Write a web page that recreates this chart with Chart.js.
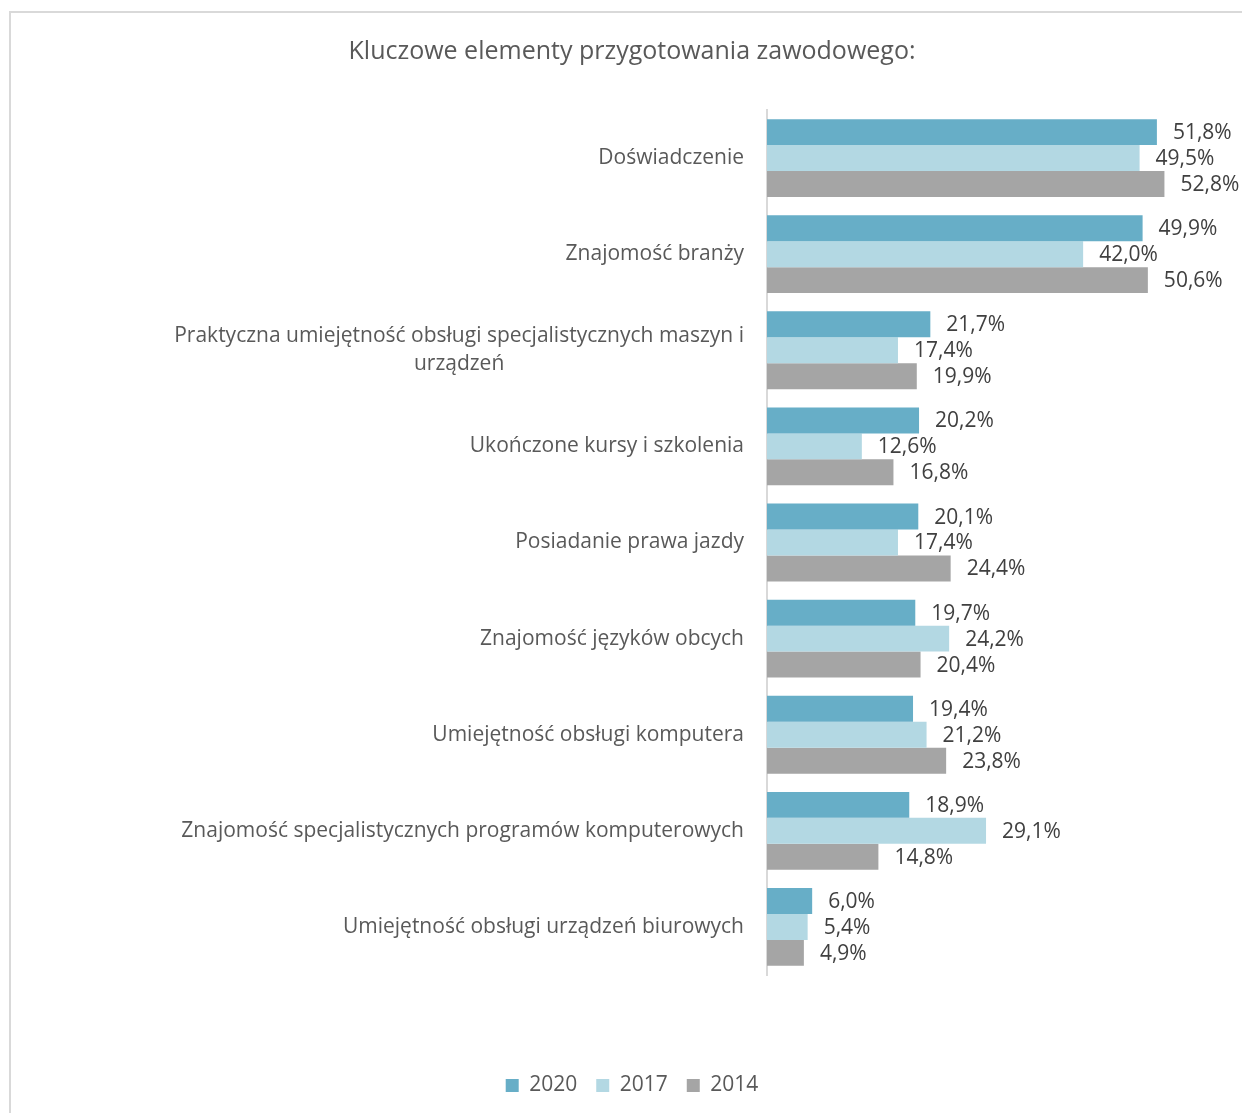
<!DOCTYPE html>
<html lang="pl">
<head>
<meta charset="UTF-8">
<title>Kluczowe elementy przygotowania zawodowego</title>
<script src="https://cdn.jsdelivr.net/npm/chart.js@4"></script>
<style>
    html, body {
        margin: 0;
        padding: 0;
        background: #ffffff;
        overflow: hidden;
        width: 1242px;
        height: 1113px;
    }
    .frame {
        position: absolute;
        left: 9px;
        top: 11px;
        width: 1300px;
        height: 1200px;
        border-left: 2px solid #d9d9d9;
        border-top: 2px solid #d9d9d9;
    }
    .chart-box {
        position: absolute;
        left: 10px;
        top: 12px;
        width: 1244px;
        height: 1094px;
    }
</style>
</head>
<body>
<div class="frame"></div>
<div class="chart-box"><canvas id="skillsChart"></canvas></div>
<script>
// Categories (multi-line label kept as an array of lines)
const categories = [
    ['Doświadczenie'],
    ['Znajomość branży'],
    ['Praktyczna umiejętność obsługi specjalistycznych maszyn i', 'urządzeń'],
    ['Ukończone kursy i szkolenia'],
    ['Posiadanie prawa jazdy'],
    ['Znajomość języków obcych'],
    ['Umiejętność obsługi komputera'],
    ['Znajomość specjalistycznych programów komputerowych'],
    ['Umiejętność obsługi urządzeń biurowych']
];

// Survey results in percent
const years = ['2020', '2017', '2014'];
const values2020 = [51.8, 49.9, 21.7, 20.2, 20.1, 19.7, 19.4, 18.9, 6.0];
const values2017 = [49.5, 42.0, 17.4, 12.6, 17.4, 24.2, 21.2, 29.1, 5.4];
const values2014 = [52.8, 50.6, 19.9, 16.8, 24.4, 20.4, 23.8, 14.8, 4.9];

const seriesColors = ['#67aec7', '#b3d8e3', '#a5a5a5'];
const FONT = "'Open Sans', sans-serif";

// Polish number format: 51,8%
function formatPercent(v) {
    return v.toFixed(1).replace('.', ',') + '%';
}

// Category labels drawn right-aligned as a block, lines centred inside it
const categoryLabels = {
    id: 'categoryLabels',
    afterDraw(chart) {
        const ctx = chart.ctx;
        const yScale = chart.scales.y;
        const right = yScale.right - 23;
        const lineHeight = 28;
        ctx.save();
        ctx.font = '21px ' + FONT;
        ctx.fillStyle = '#595959';
        ctx.textAlign = 'center';
        ctx.textBaseline = 'middle';
        categories.forEach((lines, i) => {
            const center = yScale.getPixelForValue(i);
            const blockWidth = Math.max(...lines.map(l => ctx.measureText(l).width));
            const x = right - blockWidth / 2;
            const top = center - (lines.length - 1) * lineHeight / 2;
            lines.forEach((line, j) => {
                ctx.fillText(line, x, top + j * lineHeight);
            });
        });
        ctx.restore();
    }
};

// Value labels just past the end of each bar
const valueLabels = {
    id: 'valueLabels',
    afterDatasetsDraw(chart) {
        const ctx = chart.ctx;
        ctx.save();
        ctx.font = '21px ' + FONT;
        ctx.fillStyle = '#404040';
        ctx.textAlign = 'left';
        ctx.textBaseline = 'middle';
        chart.data.datasets.forEach((ds, di) => {
            chart.getDatasetMeta(di).data.forEach((bar, i) => {
                ctx.fillText(formatPercent(ds.data[i]), bar.x + 16, bar.y + 1);
            });
        });
        ctx.restore();
    }
};

const ctx = document.getElementById('skillsChart').getContext('2d');
const skillsChart = new Chart(ctx, {
    type: 'bar',
    data: {
        labels: categories,
        datasets: [
            { label: years[0], data: values2020, backgroundColor: seriesColors[0] },
            { label: years[1], data: values2017, backgroundColor: seriesColors[1] },
            { label: years[2], data: values2014, backgroundColor: seriesColors[2] }
        ]
    },
    options: {
        indexAxis: 'y',
        responsive: true,
        maintainAspectRatio: false,
        animation: false,
        datasets: {
            bar: {
                categoryPercentage: 0.81,
                barPercentage: 1.0
            }
        },
        layout: {
            padding: 0
        },
        scales: {
            x: {
                // axis runs to the right edge, room for the value labels
                min: 0,
                max: 64.7,
                grid: { display: false },
                border: { display: false },
                ticks: { display: false },
                afterFit(axis) { axis.height = 81; }
            },
            y: {
                grid: { display: false, drawTicks: false },
                border: { display: true, color: '#d9d9d9', width: 2 },
                ticks: { display: false },
                afterFit(axis) { axis.width = 757; }
            }
        },
        plugins: {
            title: {
                display: true,
                text: 'Kluczowe elementy przygotowania zawodowego:',
                color: '#595959',
                font: { family: FONT, size: 25, weight: 'normal' },
                padding: { top: 25, bottom: 43 }
            },
            legend: {
                position: 'bottom',
                labels: {
                    color: '#595959',
                    font: { family: FONT, size: 21 },
                    boxWidth: 13,
                    boxHeight: 13,
                    padding: 19
                }
            },
            tooltip: { enabled: false }
        }
    },
    plugins: [categoryLabels, valueLabels]
});
</script>
</body>
</html>
